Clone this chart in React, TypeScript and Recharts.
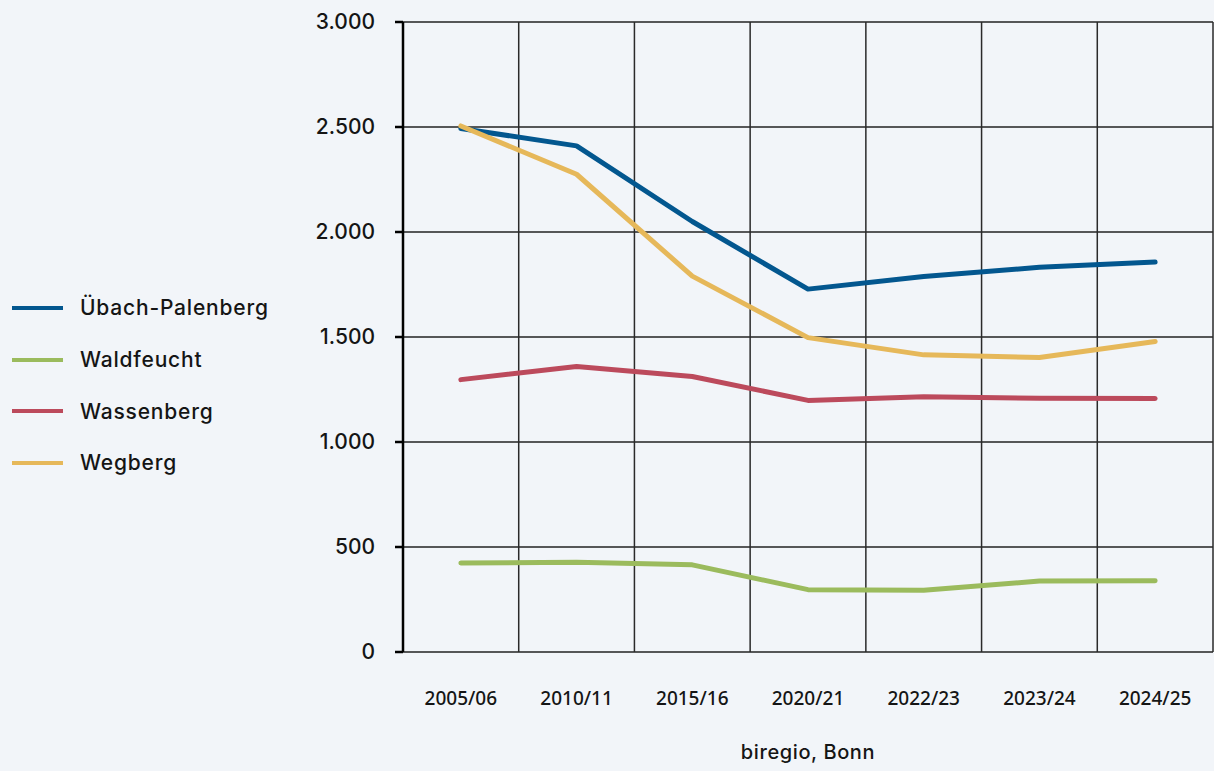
import React from 'react';
import { LineChart, Line, XAxis, YAxis, CartesianGrid, ReferenceLine, Legend, Label } from 'recharts';

const categories = ['2005/06', '2010/11', '2015/16', '2020/21', '2022/23', '2023/24', '2024/25'];
const uebachPalenberg = [2493, 2410, 2050, 1728, 1788, 1832, 1857];
const waldfeucht = [424, 427, 415, 297, 294, 338, 339];
const wassenberg = [1297, 1360, 1312, 1198, 1216, 1208, 1207];
const wegberg = [2505, 2275, 1790, 1497, 1415, 1402, 1479];
const yTicks = [0, 500, 1000, 1500, 2000, 2500, 3000];

const seriesNames = ['Übach-Palenberg', 'Waldfeucht', 'Wassenberg', 'Wegberg'];
const seriesKeys = ['uebach', 'waldfeucht', 'wassenberg', 'wegberg'];
const seriesColors = ['#03578f', '#9bbb5d', '#bc4a5c', '#e6b85a'];
const seriesValues = [uebachPalenberg, waldfeucht, wassenberg, wegberg];

const data = categories.map((cat, i) => {
  const row: Record<string, number | string> = { cat, pos: i + 0.5 };
  seriesKeys.forEach((k, s) => {
    row[k] = seriesValues[s][i];
  });
  return row;
});

const gridTicks = Array.from({ length: categories.length + 1 }, (_, i) => i);
const labelTicks = categories.map((_, i) => i + 0.5);

const BG = '#f2f5f9';
const TEXT = '#151515';
const FONT = 'Inter, "DejaVu Sans", sans-serif';

const fmt = (v: number) => v.toLocaleString('de-DE');

const LegendBox = () => (
  <div style={{ fontFamily: FONT, fontWeight: 500, color: TEXT, width: 0, overflow: 'visible' }}>
    {seriesNames.map((name, i) => (
      <div key={name} style={{ height: 51.7, display: 'flex', alignItems: 'center', whiteSpace: 'nowrap' }}>
        <div style={{ marginLeft: 12, minWidth: 51, height: 4, background: seriesColors[i] }} />
        <div style={{ marginLeft: 17, fontSize: 21, letterSpacing: 0.8, whiteSpace: 'nowrap' }}>{name}</div>
      </div>
    ))}
  </div>
);

export default function App() {
  return (
    <div style={{ position: 'absolute', left: 0, top: 0, width: 1214, height: 771, background: BG }}>
      <LineChart width={1214} height={771} data={data} margin={{ top: 22, right: 1, bottom: 9, left: 0 }}>
        <CartesianGrid vertical={false} stroke="#222" strokeWidth={1.5} xAxisId="grid" />
        <XAxis
          xAxisId="grid"
          type="number"
          dataKey="pos"
          domain={[0, categories.length]}
          ticks={gridTicks}
          interval={0}
          tick={false}
          tickSize={9}
          height={0}
          axisLine={{ stroke: '#000', strokeWidth: 2.5 }}
          tickLine={{ stroke: '#222', strokeWidth: 1.5 }}
        />
        <XAxis
          xAxisId="lab"
          type="number"
          dataKey="pos"
          domain={[0, categories.length]}
          ticks={labelTicks}
          interval={0}
          tickFormatter={(v: number) => categories[Math.floor(v)]}
          axisLine={false}
          tickLine={false}
          tickSize={0}
          tickMargin={40}
          height={110}
          tick={{ fill: TEXT, fontSize: 19, fontWeight: 500, fontFamily: '"Noto Sans", sans-serif' }}
        >
          <Label value="biregio, Bonn" position="insideBottom" offset={3} fill={TEXT} fontSize={20} fontWeight={500} fontFamily={FONT} letterSpacing={0.6} />
        </XAxis>
        <YAxis
          type="number"
          domain={[0, 3000]}
          ticks={yTicks}
          interval={0}
          width={403}
          tickSize={8}
          tickMargin={20}
          tickFormatter={fmt}
          axisLine={{ stroke: '#000', strokeWidth: 2.5 }}
          tickLine={{ stroke: '#000', strokeWidth: 2.5 }}
          tick={{ fill: TEXT, fontSize: 21, fontWeight: 500, fontFamily: FONT }}
        />
        {gridTicks.slice(1).map((x) => (
          <ReferenceLine key={x} x={x} xAxisId="grid" stroke="#2a2a2a" strokeWidth={1.5} />
        ))}
        <Legend
          layout="horizontal"
          verticalAlign="middle"
          align="left"
          wrapperStyle={{ left: 0, top: 282, width: 0, overflow: 'visible' }}
          content={() => <LegendBox />}
        />
        {seriesKeys.map((k, i) => (
          <Line
            key={k}
            xAxisId="grid"
            dataKey={k}
            name={seriesNames[i]}
            stroke={seriesColors[i]}
            strokeWidth={5}
            strokeLinecap="round"
            strokeLinejoin="round"
            dot={false}
            activeDot={false}
            isAnimationActive={false}
          />
        ))}
      </LineChart>
    </div>
  );
}
